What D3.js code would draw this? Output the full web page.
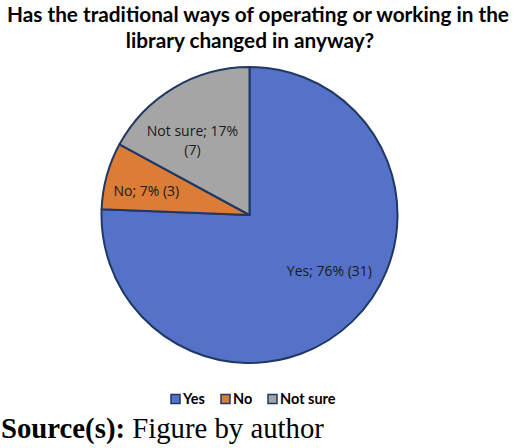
<!DOCTYPE html>
<html>
<head>
<meta charset="utf-8">
<script src="https://cdn.jsdelivr.net/npm/d3@7/dist/d3.min.js"></script>
<style>
	html, body { margin: 0; padding: 0; background: #fff; }
</style>
</head>
<body>
<div class="svg-container"></div>
<script>
(function () {

	"use strict";

	// data
	var categories = ["Yes", "No", "Not sure"],
		counts = [31, 3, 7],
		percents = ["76%", "7%", "17%"],
		colors = ["#5572C8", "#DB7C37", "#A5A5A5"];

	var titleLines = ["Has the traditional ways of operating or working in the", "library changed in anyway?"];

	var width = 520,
		height = 448,
		cx = 249.5,
		cy = 215,
		radius = 148;

	var svg = d3.select(".svg-container").append("svg")
		.attr("width", width)
		.attr("height", height);

	// shrink a text's font until it fits a width
	function fitWidth(sel, maxW, startSize) {
		var size = startSize;
		sel.attr("font-size", size);
		while (sel.node().getComputedTextLength() > maxW && size > 8) {
			size -= 0.25;
			sel.attr("font-size", size);
		}
		return size;
	}

	// title
	var t1 = svg.append("text")
		.attr("x", 258).attr("y", 22)
		.attr("text-anchor", "middle")
		.attr("font-family", "Lato, 'Open Sans', sans-serif")
		.attr("font-weight", "bold")
		.attr("fill", "#000")
		.text(titleLines[0]);
	var titleSize = fitWidth(t1, 506, 23);

	svg.append("text")
		.attr("x", 250).attr("y", 48)
		.attr("text-anchor", "middle")
		.attr("font-family", "Lato, 'Open Sans', sans-serif")
		.attr("font-weight", "bold")
		.attr("font-size", titleSize)
		.attr("fill", "#000")
		.text(titleLines[1]);

	// pie
	var pie = d3.pie().sort(null).value(function (d) { return d; });
	var arcs = pie(counts);
	var arc = d3.arc().innerRadius(0).outerRadius(radius);

	var g = svg.append("g").attr("transform", "translate(" + cx + "," + cy + ")");

	g.selectAll(".slice")
		.data(arcs)
		.enter()
		.append("path")
		.attr("class", "slice")
		.attr("d", arc)
		.attr("fill", function (d, i) { return colors[i]; })
		.attr("stroke", "#203864")
		.attr("stroke-width", 2)
		.attr("stroke-linejoin", "round");

	// labels, placed off each slice's centroid (excel "best fit" look)
	var labelRadius = [95, 107, 92],
		labelNudge = [[14, -12], [0, 4], [-10, 3]];

	var labels = g.selectAll(".lbl")
		.data(arcs)
		.enter()
		.append("text")
		.attr("class", "lbl")
		.attr("font-family", "'Open Sans', sans-serif")
		.attr("font-size", 14)
		.attr("fill", "#1a1a1a")
		.attr("text-anchor", "middle")
		.attr("transform", function (d, i) {
			var c = d3.arc().innerRadius(labelRadius[i]).outerRadius(labelRadius[i]).centroid(d);
			return "translate(" + (c[0] + labelNudge[i][0]) + "," + (c[1] + labelNudge[i][1]) + ")";
		});

	labels.each(function (d, i) {
		var t = d3.select(this);
		if (categories[i] === "Not sure") {
			t.append("tspan").attr("x", 0).attr("y", -3).text(categories[i] + "; " + percents[i]);
			t.append("tspan").attr("x", 0).attr("y", 16).text("(" + counts[i] + ")");
		} else {
			t.append("tspan").attr("x", 0).attr("y", 5).text(categories[i] + "; " + percents[i] + " (" + counts[i] + ")");
		}
	});

	// legend
	var legendX = [171, 221, 268],
		legendY = 399;

	var legend = svg.selectAll(".legend")
		.data(categories)
		.enter()
		.append("g")
		.attr("class", "legend")
		.attr("transform", function (d, i) { return "translate(" + legendX[i] + "," + legendY + ")"; });

	legend.append("rect")
		.attr("x", 0).attr("y", -4.5)
		.attr("width", 9).attr("height", 9)
		.attr("fill", function (d, i) { return colors[i]; })
		.attr("stroke", "#203864")
		.attr("stroke-width", 1.5);

	legend.append("text")
		.attr("x", 12).attr("y", 5)
		.attr("font-family", "Lato, 'Open Sans', sans-serif")
		.attr("font-weight", "bold")
		.attr("font-size", 14.5)
		.attr("fill", "#000")
		.text(function (d) { return d; });

	// source line
	var src = svg.append("text")
		.attr("x", 1).attr("y", 438)
		.attr("font-family", "'Liberation Serif', 'Times New Roman', serif")
		.attr("fill", "#000");
	src.append("tspan").attr("font-weight", "bold").text("Source(s):");
	src.append("tspan").text(" Figure by author");
	fitWidth(src, 324, 29);

})();
</script>
</body>
</html>
